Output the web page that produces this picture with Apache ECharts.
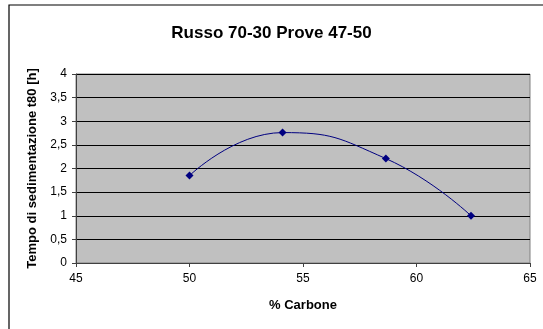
<!DOCTYPE html>
<html><head><meta charset="utf-8">
<script src="https://cdn.jsdelivr.net/npm/echarts@6/dist/echarts.min.js"></script>
<style>html,body{margin:0;padding:0;background:#fff}#c{width:543px;height:329px}</style>
</head><body><div id="c"></div>
<script>
const title = 'Russo 70-30 Prove 47-50';
const xName = '% Carbone';
const yName = 'Tempo di sedimentazione t80 [h]';
const carbon = [50, 54.1, 58.65, 62.4];
const tempo = [1.85, 2.76, 2.21, 1.0];
const yTickLabels = ['0','0,5','1','1,5','2','2,5','3','3,5','4'];

const chart = echarts.init(document.getElementById('c'), null, {renderer:'canvas'});
chart.setOption({
  animation:false,
  backgroundColor:'#fff',
  title:{text:title,left:'center',top:20,textStyle:{fontFamily:'Liberation Sans, Arial',fontSize:17,fontWeight:'bold',color:'#000'}},
  graphic:[{type:'rect',shape:{x:9,y:5,width:560,height:400},style:{fill:'none',stroke:'#000',lineWidth:1.2},silent:true}],
  grid:{left:76,top:74,width:454,height:189,show:true,backgroundColor:'#c0c0c0',borderColor:'#808080',borderWidth:1},
  xAxis:{type:'value',min:45,max:65,interval:5,name:xName,nameLocation:'middle',nameGap:36,
    nameTextStyle:{fontFamily:'Liberation Sans, Arial',fontSize:13,fontWeight:'bold',color:'#000'},
    axisLine:{show:true,lineStyle:{color:'#404040',width:1}},
    axisTick:{show:true,inside:false,length:4,lineStyle:{color:'#404040'}},
    axisLabel:{fontFamily:'Liberation Sans, Arial',fontSize:12,color:'#000',margin:10},
    splitLine:{show:false}},
  yAxis:{type:'value',min:0,max:4,interval:0.5,name:yName,nameLocation:'middle',nameGap:36,
    nameTextStyle:{fontFamily:'Liberation Sans, Arial',fontSize:13,fontWeight:'bold',color:'#000'},
    axisLine:{show:true,lineStyle:{color:'#404040',width:1}},
    axisTick:{show:true,length:4,lineStyle:{color:'#404040'}},
    axisLabel:{fontFamily:'Liberation Sans, Arial',fontSize:12,color:'#000',margin:9,
      formatter:(v)=>yTickLabels[Math.round(v*2)]},
    splitLine:{show:true,lineStyle:{color:'#000',width:1}}},
  series:[{type:'line',data:carbon.map((x,i)=>[x,tempo[i]]),smooth:0.5,
    symbol:'diamond',symbolSize:8,
    lineStyle:{color:'#000080',width:1},
    itemStyle:{color:'#000080'}}]
});
</script></body></html>
